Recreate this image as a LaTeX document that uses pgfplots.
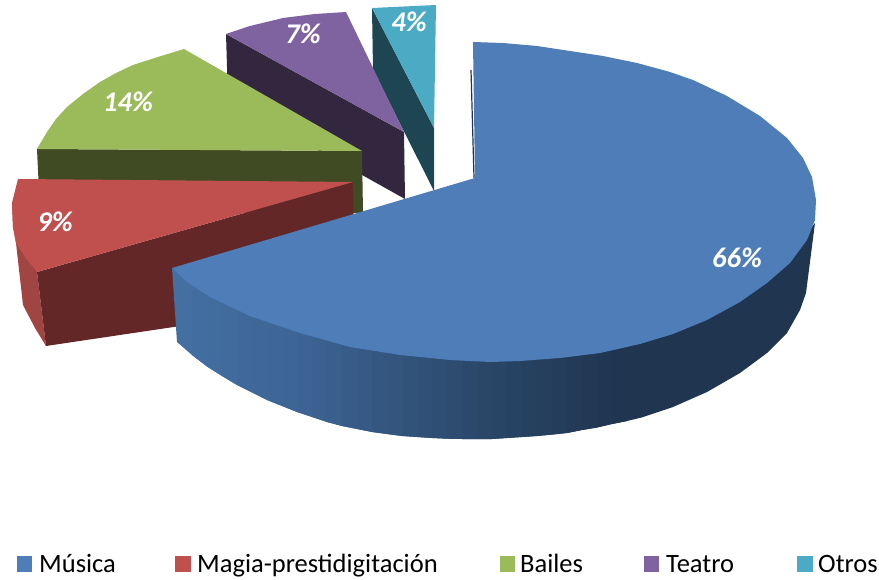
\documentclass[border=0pt]{standalone}
\usepackage{pgfplots}
\pgfplotsset{compat=1.18}
\usepackage{fontspec}
\setmainfont{Carlito}
\definecolor{cMus}{HTML}{4E7DB8}
\definecolor{cMag}{HTML}{BF504D}
\definecolor{cBai}{HTML}{9BBA59}
\definecolor{cTea}{HTML}{7F63A1}
\definecolor{cOtr}{HTML}{4BABC5}
\definecolor{dMus}{HTML}{1F3550}
\definecolor{dMag}{HTML}{622726}
\definecolor{dBai}{HTML}{414B23}
\definecolor{dTea}{HTML}{33263F}
\definecolor{dOtr}{HTML}{1E4552}
\definecolor{oMag}{HTML}{A04542}
\newcommand{\pct}[1]{\textcolor{white}{\fontsize{28.5}{30}\selectfont\bfseries\itshape #1}}
\newcommand{\leg}[1]{\fontsize{26.5}{28}\selectfont #1}
\newcommand{\band}[4]{\addplot[fill={rgb,255:red,#1;green,#2;blue,#3}] coordinates {#4} --cycle;}
\begin{document}
\begin{tikzpicture}
\begin{axis}[
  scale only axis, width=879pt, height=580pt,
  xmin=0, xmax=879, ymin=0, ymax=580, y dir=reverse,
  hide axis, clip=false,
  every axis plot/.append style={no markers, draw=none},
]
\addplot[draw=none] coordinates {(0,0)(879,580)};
% Otros
\addplot[fill=dOtr] coordinates {(372,8)(434,128)(434,191)(373,70)} --cycle;
\addplot[fill=cOtr] coordinates {(372,8)(436,5)(434,128)} --cycle;
% Teatro
\addplot[fill=dTea] coordinates {(226,34)(404,132)(405,199)(228,100)} --cycle;
\addplot[fill=cTea] coordinates {(226,34)(250,26)(283,18)(315,14)(346,12)(404,132)} --cycle;
% Bailes
\addplot[fill=dBai] coordinates {(37,149)(362,151)(363,213)(40,213)} --cycle;
\addplot[fill=cBai] coordinates {(184,49)(362,151)(37,149)(47,132)(56,119)(67,107)(83,94)(100,82)(116,73)(133,65)(158,57)} --cycle;
% Magia
\addplot[fill=oMag] coordinates {(12,203)(13,227)(16,243)(23,305)(35,328)(46,346)(37,272)} --cycle;
\addplot[fill=dMag] coordinates {(37,272)(353,182)(355,300)(46,346)} --cycle;
\addplot[fill=cMag] coordinates {(18,179)(353,182)(37,272)(25,257)(16,243)(13,227)(12,203)} --cycle;
% Musica
\addplot[draw=dMus, line width=1.2pt] coordinates {(471,70)(474,178)};
% side of Musica, in narrow bands that darken to the right
\band{67}{111}{161}{(172,268)(177,342)(192,355)(207,366.5)(207,289)(192,279)}
\band{66}{109}{160}{(192,279)(192,355)(207,366.5)(222,376)(222,297)(207,289)}
\band{65}{108}{158}{(207,289)(207,366.5)(222,376)(237,385)(237,304)(222,297)}
\band{64}{107}{156}{(222,297)(222,376)(237,385)(252,392.5)(252,311)(237,304)}
\band{63}{105}{155}{(237,304)(237,385)(252,392.5)(267,400)(267,316)(252,311)}
\band{63}{104}{153}{(252,311)(252,392.5)(267,400)(282,406)(282,321)(267,316)}
\band{62}{102}{151}{(267,316)(267,400)(282,406)(297,412)(297,326)(282,321)}
\band{61}{101}{149}{(282,321)(282,406)(297,412)(312,417)(312,330)(297,326)}
\band{60}{99}{147}{(297,326)(297,412)(312,417)(327,422)(327,335)(312,330)}
\band{58}{97}{143}{(312,330)(312,417)(327,422)(342,426)(342,339)(327,335)}
\band{57}{95}{140}{(327,335)(327,422)(342,426)(357,429)(357,342)(342,339)}
\band{55}{92}{136}{(342,339)(342,426)(357,429)(372,432)(372,344)(357,342)}
\band{54}{90}{133}{(357,342)(357,429)(372,432)(387,434)(387,347)(372,344)}
\band{52}{87}{129}{(372,344)(372,432)(387,434)(402,436)(402,349)(387,347)}
\band{51}{85}{126}{(387,347)(387,434)(402,436)(417,437)(417,351)(402,349)}
\band{49}{83}{122}{(402,349)(402,436)(417,437)(432,438)(432,352)(417,351)}
\band{48}{80}{119}{(417,351)(417,437)(432,438)(447,438.7)(447,354)(432,352)}
\band{46}{78}{115}{(432,352)(432,438)(447,438.7)(462,439)(462,354)(447,354)}
\band{45}{76}{111}{(447,354)(447,438.7)(462,439)(477,439)(477,355)(462,354)}
\band{43}{73}{108}{(462,354)(462,439)(477,439)(492,439)(492,356)(477,355)}
\band{42}{71}{104}{(477,355)(477,439)(492,439)(507,438)(507,355)(492,356)}
\band{40}{69}{101}{(492,356)(492,439)(507,438)(522,437)(522,355)(507,355)}
\band{39}{67}{99}{(507,355)(507,438)(522,437)(537,436)(537,354)(522,355)}
\band{38}{65}{96}{(522,355)(522,437)(537,436)(552,434.6)(552,352)(537,354)}
\band{37}{63}{93}{(537,354)(537,436)(552,434.6)(567,433)(567,351)(552,352)}
\band{36}{61}{91}{(552,352)(552,434.6)(567,433)(582,430)(582,349)(567,351)}
\band{35}{59}{88}{(567,351)(567,433)(582,430)(597,427.5)(597,347)(582,349)}
\band{33}{57}{85}{(582,349)(582,430)(597,427.5)(612,424)(612,344)(597,347)}
\band{32}{55}{83}{(597,347)(597,427.5)(612,424)(627,421)(627,341)(612,344)}
\addplot[fill=dMus] coordinates {(612,344)(612,424)(627,421)(642,417.4)(673,407)(707,392)(740,373)(767,353)(787,333)(800,310)(806,293)(815,223)(790,255)(740,295)(673,330)(642,337)} --cycle;
% top of Musica
\addplot[fill=cMus] coordinates {
 (473,42)(503,43)(537,46)(570,51)(603,56)(637,63)(670,72)(693,80)(727,96)(760,116)(787,138)(803,158)(812,177)(816,200)(815,220)
 (807,240)(790,263)(767,283)(740,302)(707,320)(673,334)(640,344)(600,353)(560,358)(520,361)(490,362)(450,360)(400,355)(350,347)
 (300,333)(250,316)(210,297)(187,282)(172,268)(475,178)} --cycle;
% labels
\node at (axis cs:737,258) {\pct{66\%}};
\node at (axis cs:55,222) {\pct{9\%}};
\node at (axis cs:128,102) {\pct{14\%}};
\node at (axis cs:303,34) {\pct{7\%}};
\node at (axis cs:409,22) {\pct{4\%}};
% legend
\addplot[fill=cMus] coordinates {(17,556)(32,556)(32,572)(17,572)} --cycle;
\addplot[fill=cMag] coordinates {(175,556)(191,556)(191,572)(175,572)} --cycle;
\addplot[fill=cBai] coordinates {(500,556)(515,556)(515,572)(500,572)} --cycle;
\addplot[fill=cTea] coordinates {(644,556)(659,556)(659,572)(644,572)} --cycle;
\addplot[fill=cOtr] coordinates {(797,556)(813,556)(813,572)(797,572)} --cycle;
\node[anchor=base west,inner sep=0pt] at (axis cs:39,572) {\leg{Música}};
\node[anchor=base west,inner sep=0pt] at (axis cs:197,572) {\leg{Magia-prestidigitación}};
\node[anchor=base west,inner sep=0pt] at (axis cs:520,572) {\leg{Bailes}};
\node[anchor=base west,inner sep=0pt] at (axis cs:666,572) {\leg{Teatro}};
\node[anchor=base west,inner sep=0pt] at (axis cs:818,572) {\leg{Otros}};
\end{axis}
\end{tikzpicture}
\end{document}
